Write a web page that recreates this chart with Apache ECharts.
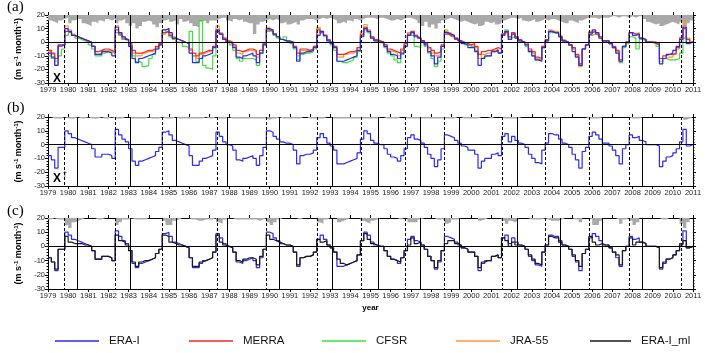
<!DOCTYPE html>
<html>
<head>
<meta charset="utf-8">
<script src="https://cdn.jsdelivr.net/npm/echarts@6/dist/echarts.min.js"></script>
<style>
html, body { margin: 0; padding: 0; background: #fff; }
#chart { width: 705px; height: 353px; }
</style>
</head>
<body>
<div id="chart"></div>
<script>
// two-month means (Jan-Feb, Mar-Apr, ... Nov-Dec), 1979 .. 2010, m s-1 month-1
var eraI = [
  -8, -11, -17, -2, -2, 10,   8, 5, 4, 3, 2, 1,
  0, -3, -9, -9, -7, -7,      -8, -10, 11, 7, 4, 2,
  -3, -12, -15, -12, -11, -10, -9, -8, -5, -2, 9, 10,
  7, 3, 2, 1, 0, -1,          -8, -15, -15, -12, -10, -9,
  -8, -4, 9, 6, 2, 0,         -1, -4, -11, -12, -10, -9,
  -8, -10, -15, -8, -2, 10,   9, 6, 4, 2, 1, 1,
  0, -4, -14, -8, -7, -7,     -6, -4, 5, 8, 5, 1,
  -1, -4, -14, -14, -13, -12, -11, -10, -6, 4, 10, 8,
  3, 1, 0, 0, -3, -7,         -9, -10, -12, -8, -3, 5,
  7, 4, 3, 1, -2, -7,         -10, -16, -11, -3, 7, 6,
  5, 3, 1, -1, -2, -4,        -4, -7, -17, -12, -10, -10,
  -7, -6, -8, 6, 8, 2,        6, 3, 1, 0, -2, -7,
  -10, -13, -14, -4, 1, 8,    7, 7, 4, 1, 0, -2,
  -7, -11, -17, -5, -2, 6,    9, 7, 4, 1, 1, -1,
  -4, -8, -14, -3, 0, 7,      5, 6, 3, 2, 0, 0,
  0, -1, -16, -12, -9, -8,    -6, -3, 2, 11, -1, 0
];
var merra = [
  -6, -8, -12, -3, -2, 8,     7, 5, 4, 3, 2, 1,
  0, -3, -7, -6, -5, -5,      -6, -7, 9, 6, 3, 2,
  -1, -6, -8, -8, -7, -6,     -6, -5, -3, -1, 7, 8,
  5, 3, 2, 1, 0, -1,          -5, -8, -10, -8, -7, -6,
  -6, -3, 8, 6, 3, 1,         0, -2, -6, -7, -6, -5,
  -5, -6, -9, -6, -1, 9,      8, 6, 4, 2, 1, 0,
  0, -3, -8, -5, -5, -6,      -5, -3, 9, 7, 5, 2,
  0, -3, -9, -9, -8, -7,      -7, -6, -4, 6, 11, 8,
  4, 2, 1, 0, -2, -5,         -6, -7, -8, -5, -1, 6,
  8, 5, 3, 1, -1, -4,         -6, -8, -7, -2, 6, 5,
  4, 2, 1, 0, -1, -2,         -1, -3, -9, -7, -6, -6,
  -5, -4, -5, 5, 7, 4,        7, 4, 2, 0, -1, -5,
  -7, -11, -12, -3, 2, 8,     7, 7, 4, 1, 0, -2,
  -4, -9, -16, -5, -2, 7,     8, 6, 3, 1, 1, -1,
  -3, -6, -13, -3, 0, 7,      6, 6, 3, 2, 0, 0,
  -1, -2, -12, -10, -9, -9,   -8, -4, 3, 10, 2, 0
];
var cfsr = [
  -10, -12, -17, -10, -5, 5,  7, 5, 3, 2, 1, 0,
  -2, -5, -10, -10, -8, -7,   -7, -8, 7, 5, 2, 1,
  -3, -10, -14, -15, -18, -17, -12, -9, -5, -2, 6, 8,
  4, 2, 0, -1, -3, -4,        8, -10, -14, 16, -17, -19,
  -20, -10, 9, 6, 2, 0,       -2, -6, -12, -14, -12, -12,
  -12, -13, -17, -8, -2, 8,   9, 5, 3, 2, 4, 1,
  -1, -5, -13, -9, -8, -8,    -7, -5, 10, 7, 4, 1,
  -2, -6, -14, -15, -15, -14, -13, -11, -7, 5, 9, 7,
  3, 1, 0, -1, -4, -8,        -10, -13, -15, -9, -3, 5,
  5, -3, -4, 0, -3, -8,       -12, -18, -14, -5, 8, 6,
  4, 2, 1, 0, -2, -3,         -3, -6, -12, -11, -10, -10,
  -7, -6, -8, 6, 9, 3,        4, 3, 1, 0, -3, -7,
  -10, -13, -13, -4, 1, 7,    7, 6, 4, 1, 0, -2,
  -5, -10, -16, -5, -2, 5,    6, 5, 3, 1, 1, -1,
  -4, -7, -15, -4, -1, 4,     3, -5, 2, 1, 0, 0,
  -1, -3, -14, -12, -13, -13, -13, -12, -8, 3, 2, 0
];
var jra55 = [
  -7, -9, -14, -3, -2, 12,    9, 6, 4, 3, 2, 1,
  0, -3, -9, -8, -6, -6,      -7, -8, 12, 7, 4, 2,
  -2, -8, -10, -10, -8, -7,   -7, -6, -4, -1, 9, 10,
  6, 4, 2, 1, 0, -1,          -6, -10, -12, -9, -8, -7,
  -7, -3, 12, 7, 3, 1,        0, -3, -8, -9, -7, -6,
  -6, -7, -11, -6, -1, 11,    9, 6, 4, 2, 1, 0,
  0, -3, -10, -6, -6, -6,     -5, -3, 11, 8, 5, 2,
  0, -4, -11, -11, -9, -8,    -8, -7, -4, 8, 13, 9,
  4, 2, 1, 0, -2, -6,         -7, -8, -10, -6, -1, 7,
  8, 5, 3, 1, -1, -5,         -8, -10, -9, -3, 9, 7,
  5, 3, 1, 0, -1, -2,         -2, -4, -12, -9, -8, -8,
  -6, -5, -8, 5, 8, 4,        7, 4, 2, 0, -2, -6,
  -8, -12, -13, -3, 2, 9,     8, 8, 5, 2, 0, -2,
  -5, -10, -18, -5, -2, 8,    8, 6, 3, 1, 1, -1,
  -4, -7, -14, -3, 0, 7,      6, 7, 3, 2, 0, 0,
  -1, -2, -12, -12, -11, -11, -9, -5, 3, 15, 3, 0
];
var eraIml = [
  -8, -11, -16, -2, -2, 7,    3, 2, 2, 2, 1, 1,
  0, -3, -9, -9, -7, -7,      -8, -10, 8, 4, 3, 1,
  -3, -11, -14, -11, -10, -10, -9, -8, -5, -2, 8, 7,
  3, 2, 1, 1, 0, -1,          -8, -14, -14, -11, -10, -9,
  -8, -4, 8, 3, 1, 0,         -1, -4, -10, -11, -9, -8,
  -8, -9, -13, -7, -2, 8,     5, 4, 3, 2, 1, 1,
  0, -4, -13, -8, -7, -7,     -6, -4, 5, 3, 4, 1,
  -1, -4, -9, -12, -13, -12,  -11, -10, -6, 4, 9, 5,
  2, 1, 0, 0, -3, -7,         -9, -10, -11, -8, -3, 1,
  6, 2, 3, 1, -2, -7,         -10, -15, -10, -3, 2, 4,
  4, 2, 1, -1, -2, -4,        -4, -7, -15, -11, -10, -10,
  -7, -6, -8, 6, 4, 0,        3, 1, 1, 0, -2, -6,
  -9, -12, -13, -4, 1, 7,     6, 6, 3, 1, 0, -2,
  -6, -10, -14, -5, -2, 7,    3, 1, 2, 1, 1, -1,
  -4, -6, -13, -3, 0, 6,      1, 3, 3, 2, 0, 0,
  0, -1, -15, -11, -9, -8,    -6, -3, 1, 4, -1, 0
];
// grey bars hanging from the top of each panel (spread, m s-1 month-1)
var spreadA = [
  4, 5, 6, 4, 3, 2,   6, 4, 3, 3, 6, 7,   8, 5, 6, 4, 5, 3,   4, 3, 6, 4, 3, 6,
  8, 6, 10, 8, 5, 4,  5, 7, 9, 6, 4, 3,   5, 4, 7, 3, 5, 4,   6, 8, 9, 5, 4, 6,
  4, 4, 3, 2, 2, 4,   5, 3, 4, 3, 5, 6,   6, 14, 7, 5, 4, 3,  4, 3, 4, 6, 5, 7,
  6, 5, 7, 4, 3, 3,   3, 4, 3, 2, 3, 2,   3, 4, 6, 5, 6, 4,   5, 3, 4, 3, 2, 2,
  2, 3, 2, 2, 3, 4,   4, 3, 4, 3, 2, 2,   3, 4, 6, 8, 5, 9,   7, 10, 6, 4, 3, 2,
  3, 4, 5, 4, 5, 6,   7, 6, 8, 7, 5, 6,   5, 7, 6, 4, 3, 2,   2, 3, 2, 4, 5, 4,
  3, 5, 4, 3, 4, 3,   3, 4, 5, 6, 6, 4,   5, 6, 4, 3, 2, 2,   2, 3, 2, 2, 2, 1,
  1, 2, 1, 1, 2, 1,   2, 1, 1, 3, 5, 6,   7, 6, 8, 7, 6, 5,   6, 7, 5, 9, 6, 4
];
var spreadB = [
  0, 1, 1, 1, 0, 1,   1, 1, 0, 1, 1, 0,   1, 1, 1, 0, 1, 1,   0, 1, 1, 1, 0, 0,
  1, 1, 1, 1, 1, 0,   1, 1, 1, 0, 1, 1,   1, 0, 1, 1, 1, 1,   1, 1, 1, 1, 0, 1,
  1, 0, 1, 1, 1, 0,   1, 1, 1, 1, 1, 1,   1, 1, 1, 1, 1, 2,   1, 1, 0, 1, 1, 1,
  1, 1, 1, 0, 0, 1,   1, 1, 1, 1, 0, 0,   1, 1, 1, 1, 1, 1,   1, 1, 1, 1, 1, 1,
  1, 1, 0, 0, 1, 1,   1, 1, 0, 0, 1, 1,   1, 1, 1, 1, 1, 1,   1, 1, 1, 1, 1, 1,
  1, 0, 0, 1, 1, 1,   1, 1, 0, 0, 0, 1,   0, 0, 0, 1, 1, 1,   1, 1, 0, 0, 0, 0,
  0, 0, 0, 0, 1, 1,   1, 1, 0, 0, 0, 0,   0, 0, 0, 0, 1, 1,   1, 1, 0, 0, 0, 0,
  0, 0, 0, 0, 0, 1,   1, 1, 0, 0, 0, 0,   0, 0, 0, 0, 0, 0,   0, 0, 0, 2, 1, 0
];
var spreadC = [
  1, 0, 1, 1, 1, 5,   7, 3, 2, 1, 0, 0,   0, 0, 1, 1, 0, 0,   0, 0, 5, 3, 1, 1,
  0, 1, 1, 1, 1, 0,   0, 0, 0, 0, 2, 5,   5, 2, 1, 0, 0, 0,   1, 1, 2, 2, 1, 1,
  1, 0, 3, 4, 1, 0,   0, 1, 1, 1, 1, 1,   1, 1, 2, 1, 0, 3,   5, 3, 1, 0, 0, 0,
  0, 0, 1, 0, 0, 0,   0, 0, 3, 4, 1, 0,   0, 0, 3, 2, 1, 0,   0, 0, 0, 2, 3, 4,
  2, 1, 0, 0, 0, 0,   0, 0, 1, 0, 0, 3,   3, 3, 1, 0, 0, 0,   0, 1, 1, 1, 4, 3,
  1, 1, 0, 0, 0, 0,   0, 0, 2, 1, 0, 0,   0, 0, 0, 2, 4, 2,   3, 2, 0, 0, 0, 1,
  1, 1, 1, 0, 1, 2,   2, 2, 1, 0, 0, 0,   1, 1, 3, 0, 0, 1,   5, 5, 2, 0, 0, 0,
  0, 1, 4, 1, 0, 2,   5, 3, 0, 0, 0, 0,   0, 0, 1, 1, 0, 0,   0, 0, 4, 7, 3, 0
];
// phase-change dates (decimal years)
var dashedDates = [1979.81, 1982.32, 1984.67, 1987.40, 1989.81, 1992.38, 1994.56,
  1996.74, 1998.66, 2001.55, 2003.65, 2005.84, 2007.82, 2010.43];
var solidDates = [1980.47, 1983.07, 1985.38, 1987.91, 1990.47, 1993.12, 1995.38,
  1997.49, 1999.40, 2002.30, 2004.40, 2006.52, 2008.48];
var yearMin = 1979, yearMax = 2011;

function toPairs(arr) {
  var out = arr.map(function (v, i) { return [yearMin + i / 6, v]; });
  out.push([yearMax, arr[arr.length - 1]]);
  return out;
}

var colors = { 'ERA-I': '#2a2af0', 'MERRA': '#f02828', 'CFSR': '#3de03d', 'JRA-55': '#ff9a2e', 'ERA-I_ml': '#1a1a1a' };
var grids = [
  { left: 48, top: 15, width: 645, height: 68 },
  { left: 48, top: 117, width: 645, height: 69 },
  { left: 48, top: 218, width: 645, height: 71 }
];

var xAxes = [], yAxes = [];
grids.forEach(function (g, i) {
  var base = {
    gridIndex: i, type: 'value', min: yearMin, max: yearMax, interval: 1,
    axisLine: { onZero: false, lineStyle: { color: '#000', width: 1 } },
    axisTick: { length: 3, lineStyle: { color: '#000' } },
    splitLine: { show: false }
  };
  xAxes.push(Object.assign({}, base, {
    position: 'bottom',
    axisLabel: { fontSize: 7.5, color: '#222', margin: 3, fontFamily: 'Liberation Sans',
      formatter: function (v) { return String(v); } },
    name: i === 2 ? 'year' : '', nameLocation: 'middle', nameGap: 15,
    nameTextStyle: { fontSize: 8, fontWeight: 'bold', color: '#000', fontFamily: 'Liberation Sans' }
  }));
  xAxes.push(Object.assign({}, base, { position: 'top', axisLabel: { show: false } }));
  var ybase = {
    gridIndex: i, type: 'value', min: -30, max: 20, interval: 10,
    axisLine: { show: true, onZero: false, lineStyle: { color: '#000', width: 1 } },
    axisTick: { show: true, length: 3, lineStyle: { color: '#000' } },
    minorTick: { show: true, splitNumber: 5, length: 1.5, lineStyle: { color: '#000' } },
    splitLine: { show: false }
  };
  yAxes.push(Object.assign({}, ybase, {
    position: 'left',
    axisLabel: { fontSize: 7.5, color: '#222', margin: 3, fontFamily: 'Liberation Sans' },
    name: '(m s{s|-1} month{s|-1})', nameLocation: 'middle', nameRotate: 90, nameGap: 19,
    nameTextStyle: { fontSize: 9, fontWeight: 'bold', color: '#000', fontFamily: 'Liberation Sans',
      rich: { s: { fontSize: 6, fontWeight: 'bold', verticalAlign: 'top', padding: [0, 0, 4, 0] } } }
  }));
  yAxes.push(Object.assign({}, ybase, { position: 'right', axisLabel: { show: false } }));
  yAxes.push({ gridIndex: i, type: 'value', min: 0, max: 50, inverse: true, show: false });
});

function lineSeries(name, arr, gi, extra) {
  return Object.assign({
    name: name, type: 'line', step: 'end', data: toPairs(arr),
    xAxisIndex: gi * 2, yAxisIndex: gi * 3, symbol: 'none', showSymbol: false,
    lineStyle: { color: colors[name], width: 1.2 }, itemStyle: { color: colors[name] },
    animation: false, silent: true, z: 3
  }, extra || {});
}

function spreadSeries(arr, gi) {
  var marks = dashedDates.map(function (t) {
    return { xAxis: t, lineStyle: { type: [3, 2], color: '#000', width: 1 } };
  }).concat(solidDates.map(function (t) {
    return { xAxis: t, lineStyle: { type: 'solid', color: '#000', width: 1 } };
  }));
  return {
    type: 'line', step: 'end', data: toPairs(arr), xAxisIndex: gi * 2, yAxisIndex: gi * 3 + 2,
    symbol: 'none', lineStyle: { width: 0 }, areaStyle: { color: '#a9a9a9', opacity: 1 },
    animation: false, silent: true, z: 1,
    markLine: { silent: true, symbol: 'none', label: { show: false }, animation: false, data: marks }
  };
}

var zeroLine = { silent: true, symbol: 'none', label: { show: false }, animation: false,
  lineStyle: { color: '#000', width: 1, type: 'solid' }, data: [{ yAxis: 0 }] };

var series = [
  spreadSeries(spreadA, 0),
  lineSeries('CFSR', cfsr, 0),
  lineSeries('JRA-55', jra55, 0),
  lineSeries('MERRA', merra, 0),
  lineSeries('ERA-I', eraI, 0, { markLine: zeroLine }),
  spreadSeries(spreadB, 1),
  lineSeries('ERA-I', eraI, 1, { markLine: zeroLine }),
  spreadSeries(spreadC, 2),
  lineSeries('ERA-I', eraI, 2, { markLine: zeroLine }),
  lineSeries('ERA-I_ml', eraIml, 2)
];

var legendPos = [['ERA-I', 50], ['MERRA', 184], ['CFSR', 317], ['JRA-55', 451], ['ERA-I_ml', 585]];
var legends = legendPos.map(function (p) {
  return {
    data: [p[0]], left: p[1], top: 330, icon: 'rect', itemWidth: p[0] === 'ERA-I_ml' ? 41 : 44, itemHeight: 1.6,
    selectedMode: false,
    textStyle: { fontSize: 11.5, color: '#111', fontFamily: 'Liberation Sans', padding: [0, 0, 0, 5] }
  };
});

var chart = echarts.init(document.getElementById('chart'));
chart.setOption({
  backgroundColor: '#fff',
  animation: false,
  title: [
    { text: '(a)', left: 2, top: -5, textStyle: { fontSize: 15, fontWeight: 'normal', fontFamily: 'Liberation Serif', color: '#000' } },
    { text: '(b)', left: 2, top: 96, textStyle: { fontSize: 15, fontWeight: 'normal', fontFamily: 'Liberation Serif', color: '#000' } },
    { text: '(c)', left: 2, top: 199, textStyle: { fontSize: 15, fontWeight: 'normal', fontFamily: 'Liberation Serif', color: '#000' } }
  ],
  graphic: [
    { type: 'text', left: 53, top: 73, style: { text: 'X', fontSize: 12, fontWeight: 'bold', fill: '#000', fontFamily: 'Liberation Sans' } },
    { type: 'text', left: 53, top: 173, style: { text: 'X', fontSize: 12, fontWeight: 'bold', fill: '#000', fontFamily: 'Liberation Sans' } },
    { type: 'text', left: 63, top: 171, style: { text: '\u2020', fontSize: 7, fill: '#000', fontFamily: 'Liberation Sans' } }
  ],
  legend: legends,
  grid: grids,
  xAxis: xAxes,
  yAxis: yAxes,
  series: series
});
</script>
</body>
</html>
